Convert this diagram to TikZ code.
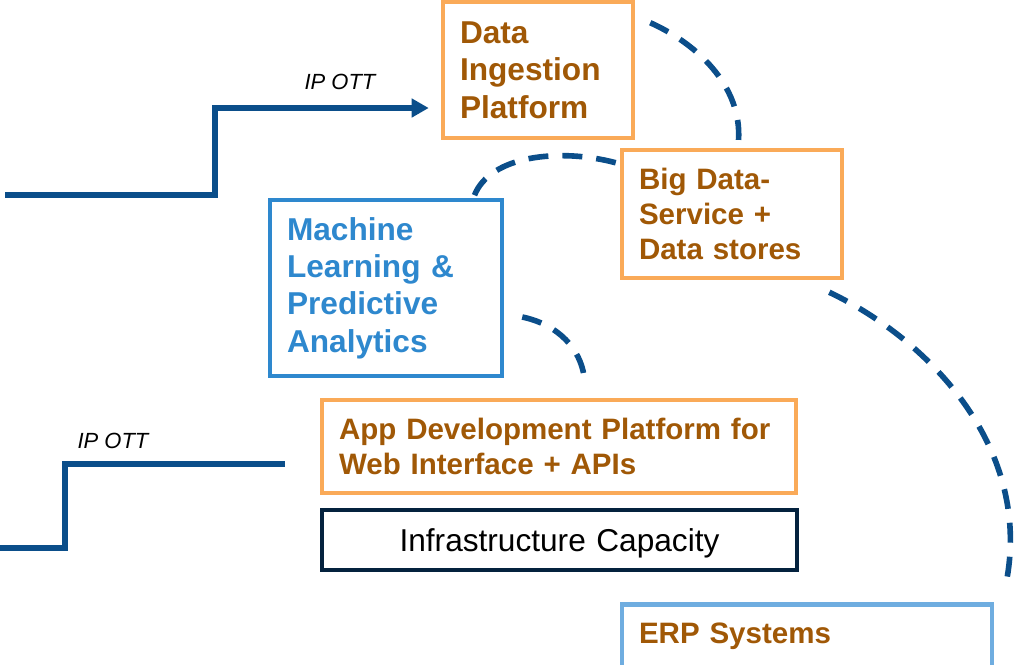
\documentclass[tikz,border=0pt]{standalone}
\usepackage{fontspec}
\setmainfont{Liberation Sans}
\usetikzlibrary{arrows.meta,calc}
\definecolor{boxorange}{RGB}{250,170,88}
\definecolor{textbrown}{RGB}{160,88,6}
\definecolor{mlblue}{RGB}{46,136,206}
\definecolor{erpblue}{RGB}{111,173,224}
\definecolor{infranavy}{RGB}{4,34,62}
\definecolor{flowblue}{RGB}{11,78,138}

\begin{document}
\begin{tikzpicture}[x=0.02cm, y=-0.02cm,
        box/.style={draw, line width=2.6pt, inner xsep=0.34cm, inner ysep=0pt, align=left},
        bigtext/.style={font=\fontsize{18}{21.3}\selectfont\bfseries},
        smalltext/.style={font=\fontsize{16.8}{19.8}\selectfont\bfseries},
        flowline/.style={draw=flowblue, line width=3.3pt},
        linkdash/.style={draw=flowblue, line width=3.2pt, dash pattern=on 0.4cm off 0.28cm},
        ottlabel/.style={font=\fontsize{12.5}{14}\selectfont\itshape}]
        \useasboundingbox (0,0) rectangle (1025,664);

        % Boxes
        \node[box, bigtext, draw=boxorange, text=textbrown, text width=3.12cm, minimum height=2.72cm] (ingest) at (538,70) {Data\\Ingestion\\Platform};
        \node[box, smalltext, draw=boxorange, text=textbrown, text width=3.72cm, minimum height=2.56cm] (bigdata) at (732,214) {Big Data-\\Service +\\Data stores};
        \node[box, bigtext, draw=mlblue, text=mlblue, text width=3.96cm, minimum height=3.52cm] (ml) at (386,288) {Machine\\Learning \&\\Predictive\\Analytics};
        \node[box, smalltext, draw=boxorange, text=textbrown, text width=8.8cm, minimum height=1.86cm] (app) at (559,446.5) {App Development Platform for\\Web Interface + APIs};
        \node[box, draw=infranavy, align=center, text width=8.82cm, minimum height=1.2cm, text depth=0pt, font=\fontsize{18}{21}\selectfont] (infra) at (559.5,540) {Infrastructure Capacity};
        \node[box, smalltext, draw=erpblue, text=textbrown, text width=6.72cm, minimum height=1.26cm] (erp) at (807,636) {ERP Systems};

        % IP OTT feeds
        \coordinate (src1) at (5,195);
        \coordinate (bend1) at (215,108);
        \draw[flowline, -{Triangle[length=0.34cm, width=0.36cm]}, shorten >=0.24cm] (src1) -| (bend1) -- (ingest.west |- bend1);
        \node[ottlabel] (ott1) at (340,82) {IP OTT};

        \coordinate (src2) at (0,548);
        \coordinate (bend2) at (65,464);
        \draw[flowline, shorten >=0.7cm] (src2) -| (bend2) -- (app.west |- bend2);
        \node[ottlabel] (ott2) at (113,441) {IP OTT};

        % Dashed links
        \draw[linkdash] ([xshift=0.3cm, yshift=-0.46cm]ingest.north east) .. controls (700,45) and (745,90) .. ([xshift=0.12cm, yshift=0.04cm]bigdata.north);
        \draw[linkdash] ([xshift=-0.08cm, yshift=-0.3cm]bigdata.north west) .. controls (560,148) and (490,155) .. ([xshift=-0.6cm, yshift=0.04cm]ml.north east);
        \draw[linkdash] ([xshift=0.36cm, yshift=-0.58cm]ml.east) .. controls (560,325) and (580,350) .. ([xshift=0.5cm, yshift=0.44cm]app.north);
        \draw[linkdash] ([xshift=-0.3cm, yshift=-0.24cm]bigdata.south east) .. controls (930,340) and (1035,450) .. ([xshift=0.22cm, yshift=0.3cm]erp.north east);
    \end{tikzpicture}
\end{document}
